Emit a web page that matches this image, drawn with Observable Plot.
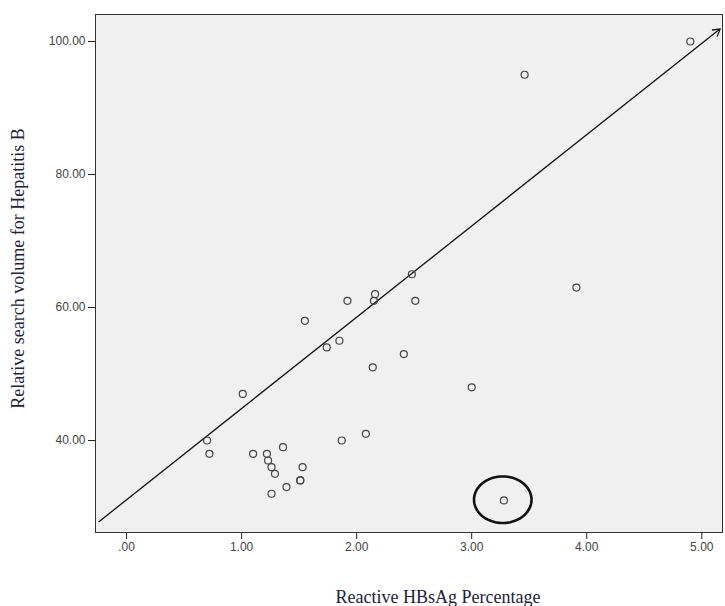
<!DOCTYPE html>
<html>
<head>
<meta charset="utf-8">
<script src="https://cdn.jsdelivr.net/npm/d3@7"></script>
<script src="https://cdn.jsdelivr.net/npm/@observablehq/plot@0.6"></script>
<style>
  body { margin: 0; background: #fff; }
  #chart svg { display: block; }
</style>
</head>
<body>
<div id="chart"></div>
<script>
// Reactive HBsAg percentage (x) and relative search volume for Hepatitis B (y)
const hbsag = [4.90, 3.46, 3.91, 2.48, 2.16, 2.15, 1.92, 2.51, 1.55, 1.85, 1.74, 2.41, 2.14, 3.00, 1.01,
               0.70, 0.72, 1.10, 1.22, 1.23, 1.26, 1.29, 1.36, 1.53, 1.51, 1.51, 1.39, 1.26, 1.87, 2.08, 3.28];
const searchVolume = [100, 95, 63, 65, 62, 61, 61, 61, 58, 55, 54, 53, 51, 48, 47,
                      40, 38, 38, 38, 37, 36, 35, 39, 36, 34, 34, 33, 32, 40, 41, 31];

const xTicks = [0, 1, 2, 3, 4, 5];
const yTicks = [40, 60, 80, 100];

// Fitted trend line (drawn as an arrow) end points
const fitX = [-0.24, 5.16];
const fitY = [27.8, 101.9];

// Highlighted (circled) outlier: centre and half-widths in data units
const outlierCentre = [3.27, 31.1];
const outlierRadii = [0.25, 3.5];

const xTitle = "Reactive HBsAg Percentage";
const yTitle = "Relative search volume for Hepatitis B";

const points = hbsag.map((x, i) => ({x, y: searchVolume[i]}));
const fit = [{x1: fitX[0], y1: fitY[0], x2: fitX[1], y2: fitY[1]}];
const ellipse = d3.range(0, 73).map(i => {
  const t = (i / 72) * 2 * Math.PI;
  return {x: outlierCentre[0] + outlierRadii[0] * Math.cos(t),
          y: outlierCentre[1] + outlierRadii[1] * Math.sin(t)};
});

const fmt = d => d === 0 ? ".00" : d.toFixed(2);

const chart = Plot.plot({
  width: 725,
  height: 606,
  marginLeft: 95,
  marginRight: 3,
  marginTop: 14,
  marginBottom: 74,
  x: {domain: [-0.27, 5.18]},
  y: {domain: [26.17, 104.06]},
  style: {fontFamily: "'Liberation Sans', Arial, sans-serif", fontSize: "12px", background: "#fff", color: "#444"},
  marks: [
    Plot.frame({fill: "#f0f0f0"}),
    Plot.axisX({ticks: xTicks, tickFormat: fmt, tickSize: 7, tickPadding: 3, label: null, stroke: "#222", fill: "#444"}),
    Plot.axisY({ticks: yTicks, tickFormat: fmt, tickSize: 7, tickPadding: 3, label: null, stroke: "#222", fill: "#444"}),
    Plot.arrow(fit, {x1: "x1", y1: "y1", x2: "x2", y2: "y2", stroke: "#111", strokeWidth: 1.3, headLength: 9}),
    Plot.dot(points, {x: "x", y: "y", r: 3.5, stroke: "#444", strokeWidth: 1.2, fill: "none"}),
    Plot.line(ellipse, {x: "x", y: "y", stroke: "#111", strokeWidth: 2.6}),
    Plot.frame({stroke: "#333"}),
    Plot.text([xTitle], {frameAnchor: "bottom", textAnchor: "middle", lineAnchor: "middle", dx: 29, dy: 65,
      fontFamily: "'Liberation Serif', 'Times New Roman', serif", fontSize: 18, fill: "#22223a"}),
    Plot.text([yTitle], {frameAnchor: "left", textAnchor: "middle", lineAnchor: "middle", rotate: -90, dx: -77, dy: -5,
      fontFamily: "'Liberation Serif', 'Times New Roman', serif", fontSize: 18, fill: "#22223a"})
  ]
});

document.getElementById("chart").appendChild(chart);
</script>
</body>
</html>
